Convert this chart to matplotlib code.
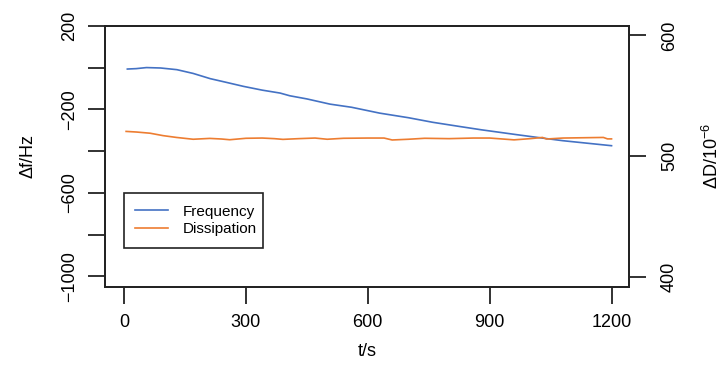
import matplotlib
matplotlib.use("Agg")
import matplotlib.pyplot as plt

plt.rcParams['font.family'] = ['Liberation Sans', 'DejaVu Sans']
plt.rcParams['mathtext.fontset'] = 'custom'
plt.rcParams['mathtext.rm'] = 'Liberation Sans'
plt.rcParams['mathtext.it'] = 'Liberation Sans'

# frequency shift (left axis)
t_freq = [8, 30, 55, 90, 130, 170, 212, 250, 294, 340, 384, 408, 450, 507,
          560, 629, 700, 760, 826, 880, 966, 1020, 1080, 1140, 1200]
freq = [-7, -5, 0, -2, -10, -28, -53, -70, -90, -108, -122, -135, -150, -175,
        -190, -218, -240, -262, -282, -298, -321, -335, -350, -362, -374]

# dissipation (right axis)
t_diss = [5, 30, 64, 96, 129, 170, 211, 240, 260, 300, 340, 370, 391, 430,
          470, 500, 540, 600, 640, 660, 700, 740, 800, 860, 900, 960, 1000,
          1030, 1040, 1080, 1140, 1180, 1190, 1200]
diss = [520.5, 520, 519, 517, 515.5, 514, 514.7, 514.2, 513.6, 514.8, 515,
        514.5, 513.9, 514.5, 515, 514, 514.8, 515, 515, 513.4, 514, 514.8,
        514.5, 515, 515, 513.5, 514.5, 515.5, 514.2, 515, 515.3, 515.5, 514.3,
        514.3]

x_ticks = [0, 300, 600, 900, 1200]
left_ticks = [-1000, -800, -600, -400, -200, 0, 200]
left_labels = ['\u22121000', '', '\u2212600', '', '\u2212200', '', '200']
right_ticks = [400, 500, 600]

blue = '#4472C4'
orange = '#ED7D31'

fig = plt.figure(figsize=(7.25, 3.79), dpi=100)
ax = fig.add_axes([105 / 725, 1 - 286.5 / 379, 524 / 725, 260.7 / 379])
ax2 = ax.twinx()

l1, = ax.plot(t_freq, freq, color=blue, lw=1.2)
l2, = ax2.plot(t_diss, diss, color=orange, lw=1.2)

ax.set_xlim(-47, 1243)
ax.set_ylim(-1048, 200)
ax2.set_ylim(392, 608)

ax.set_xticks(x_ticks)
ax.set_yticks(left_ticks)
ax.set_yticklabels(left_labels)
ax2.set_yticks(right_ticks)

for a in (ax, ax2):
    for s in a.spines.values():
        s.set_linewidth(1.3)
        s.set_color('#222222')
    a.tick_params(length=12, width=1.3, color='#222222', labelsize=13)

ax.tick_params(axis='x', pad=8)
ax.tick_params(axis='y', pad=7)
ax2.tick_params(axis='y', pad=11)
for lab in ax.get_yticklabels():
    lab.set_rotation(90)
    lab.set_va('center')
for lab in ax2.get_yticklabels():
    lab.set_rotation(90)
    lab.set_va('center')

fig.text(367 / 725, 1 - 351 / 379, 't/s', ha='center', va='center', fontsize=13)
fig.text(28 / 725, 1 - 156 / 379, '\u0394f/Hz', ha='center', va='center',
         rotation=90, fontsize=13)
fig.text(712 / 725, 1 - 156 / 379, '\u0394D/10$^{\u22126}$', ha='center',
         va='center', rotation=90, fontsize=13)

leg = ax.legend([l1, l2], ['Frequency', 'Dissipation'], loc='lower left',
                bbox_to_anchor=(0.0363, 0.148, 0.266, 0.207), mode='expand',
                borderaxespad=0, fancybox=False, framealpha=1,
                edgecolor='#222222', fontsize=11, handlelength=2.1,
                handletextpad=1.0, labelspacing=0.25, borderpad=0.75)
leg.get_frame().set_linewidth(1.2)
leg.set_zorder(5)

fig.savefig('out.png', dpi=100)
